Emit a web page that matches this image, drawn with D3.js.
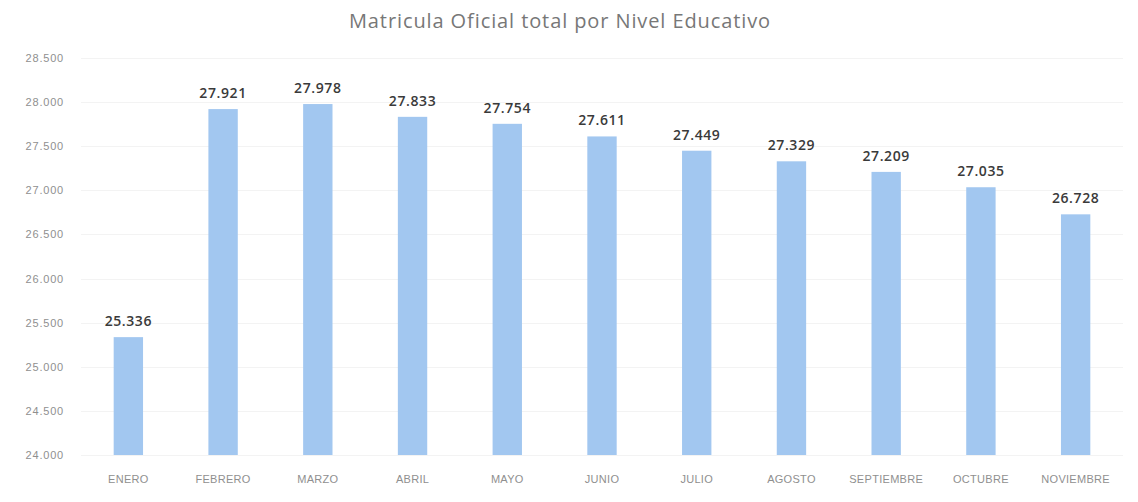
<!DOCTYPE html>
<html lang="es">
<head>
  <meta charset="UTF-8" />
  <title>Matricula Oficial total por Nivel Educativo</title>
  <script src="https://cdn.jsdelivr.net/npm/d3@7"></script>
  <style>
    body {
      margin: 0;
      background-color: #ffffff;
      font-family: "Open Sans", "Liberation Sans", sans-serif;
    }

    .grid line {
      stroke: #f3f3f3;
      stroke-width: 1px;
    }

    .axis text {
      fill: #8f8f8f;
      font-size: 11px;
    }

    .value-label {
      fill: #3a3a3a;
      font-size: 14px;
      font-weight: 600;
      letter-spacing: 0.6px;
    }
  </style>
</head>
<body>
  <div id="chart"></div>

  <script>
    const months = [
      "ENERO", "FEBRERO", "MARZO", "ABRIL", "MAYO", "JUNIO",
      "JULIO", "AGOSTO", "SEPTIEMBRE", "OCTUBRE", "NOVIEMBRE"
    ];

    const enrolment = [
      25336, 27921, 27978, 27833, 27754, 27611,
      27449, 27329, 27209, 27035, 26728
    ];

    const yTicks = [24000, 24500, 25000, 25500, 26000, 26500, 27000, 27500, 28000, 28500];

    const width = 1138;
    const height = 502;

    const esLocale = d3.formatLocale({
      decimal: ",",
      thousands: ".",
      grouping: [3],
      currency: ["$", ""]
    });
    const fmt = esLocale.format(",d");

    const data = months.map((m, i) => ({ month: m, value: enrolment[i] }));

    const svg = d3.select("#chart")
      .append("svg")
      .attr("width", width)
      .attr("height", height);

    const xScale = d3.scaleBand()
      .domain(months)
      .range([81, 1123])
      .paddingInner(0.69)
      .paddingOuter(0.345);

    const yScale = d3.scaleLinear()
      .domain([24000, 28500])
      .range([455, 58]);

    // gridlines
    svg.append("g")
      .attr("class", "grid")
      .selectAll("line")
      .data(yTicks)
      .enter()
      .append("line")
      .attr("x1", 81)
      .attr("x2", 1123)
      .attr("y1", d => Math.round(yScale(d)) + 0.5)
      .attr("y2", d => Math.round(yScale(d)) + 0.5);

    // title
    svg.append("text")
      .attr("x", 560)
      .attr("y", 28)
      .attr("text-anchor", "middle")
      .attr("fill", "#777777")
      .style("font-size", "20px")
      .style("letter-spacing", "0.9px")
      .text("Matricula Oficial total por Nivel Educativo");

    const yAxis = d3.axisLeft(yScale)
      .tickValues(yTicks)
      .tickFormat(fmt)
      .tickSize(0)
      .tickPadding(0);

    svg.append("g")
      .attr("class", "axis")
      .attr("transform", "translate(64, 0)")
      .call(yAxis)
      .call(g => g.select(".domain").remove())
      .selectAll("text")
      .style("letter-spacing", "0.8px");

    const xAxis = d3.axisBottom(xScale)
      .tickSize(0)
      .tickPadding(20);

    svg.append("g")
      .attr("class", "axis")
      .attr("transform", "translate(0, 455)")
      .call(xAxis)
      .call(g => g.select(".domain").remove())
      .selectAll("text")
      .style("letter-spacing", "0.3px");

    svg.selectAll(".bar")
      .data(data)
      .enter()
      .append("rect")
      .attr("class", "bar")
      .attr("x", d => xScale(d.month))
      .attr("y", d => yScale(d.value))
      .attr("width", xScale.bandwidth())
      .attr("height", d => yScale(24000) - yScale(d.value))
      .attr("fill", "#a2c7f0");

    svg.selectAll(".value-label")
      .data(data)
      .enter()
      .append("text")
      .attr("class", "value-label")
      .attr("x", d => xScale(d.month) + xScale.bandwidth() / 2)
      .attr("y", d => yScale(d.value) - 11)
      .attr("text-anchor", "middle")
      .text(d => fmt(d.value));
  </script>
</body>
</html>
